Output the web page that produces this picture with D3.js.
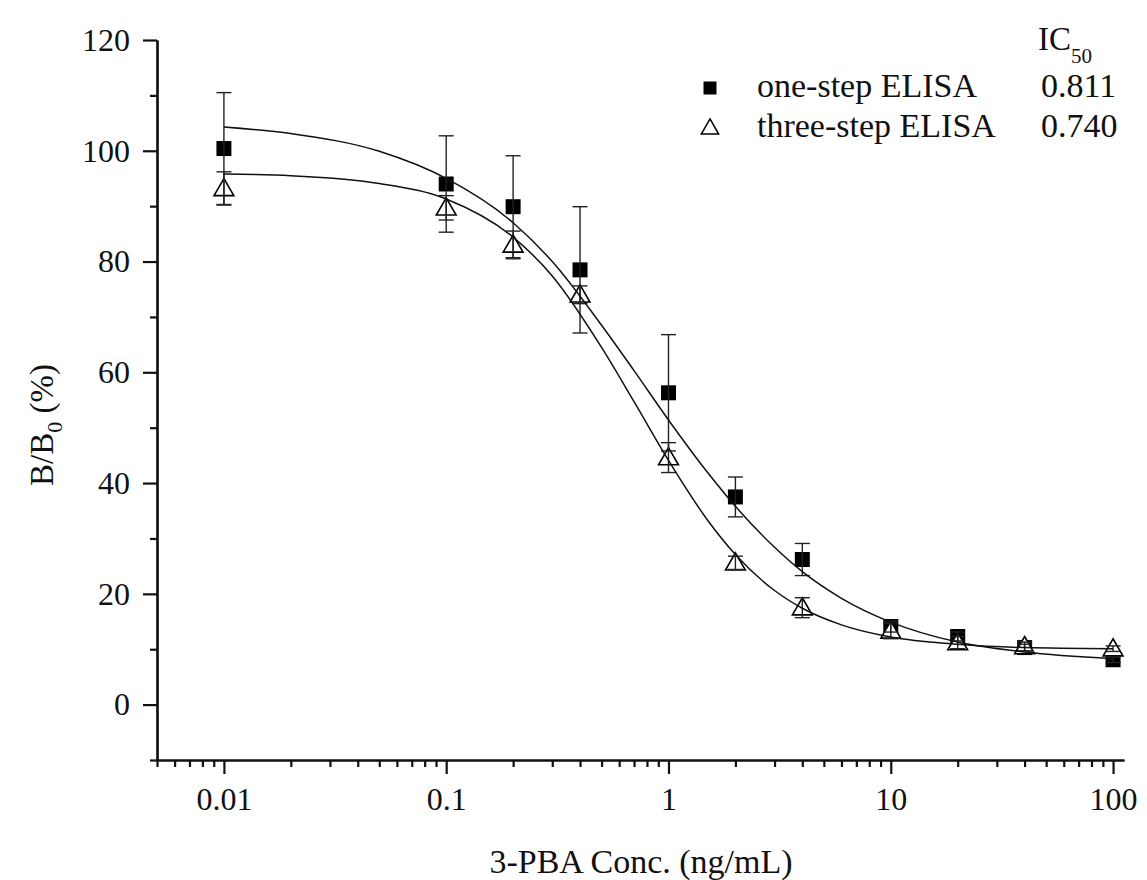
<!DOCTYPE html>
<html>
<head>
<meta charset="utf-8">
<script src="https://cdn.jsdelivr.net/npm/d3@7"></script>
<style>
  body { margin: 0; background: #fff; }
  svg text { font-family: "Liberation Serif", "Times New Roman", serif; fill: #111; }
  .axis path, .axis line { stroke: #111; stroke-width: 2.2; }
  .axis text { font-size: 32px; }
</style>
</head>
<body>
<div class="visHolder"></div>
<script>
"use strict"

// concentrations (ng/mL)
var conc = [0.01, 0.1, 0.2, 0.4, 1, 2, 4, 10, 20, 40, 100];

// B/B0 (%) means and SD
var oneStep = [100.4, 94.0, 89.9, 78.5, 56.3, 37.5, 26.2, 14.1, 12.3, 10.3, 8.1];
var oneStepErr = [10.1, 8.7, 9.2, 11.4, 10.5, 3.6, 2.9, 1.0, 0.8, 0.6, 0.5];
var threeStep = [93.2, 89.7, 83.0, 74.0, 44.6, 25.6, 17.5, 13.3, 11.2, 10.5, 10.1];
var threeStepErr = [3.0, 2.2, 2.5, 1.6, 2.7, 1.2, 1.8, 1.4, 1.1, 0.8, 0.5];

// fitted curves, points
var fitX = [0.01, 0.02, 0.05, 0.1, 0.2, 0.3, 0.5, 0.7, 1, 1.5, 2, 3, 4, 6, 10, 20, 40, 100];
var oneFit = [104.3, 103.1, 99.9, 95.0, 87.0, 80.0, 68.5, 60.3, 51.4, 41.9, 35.8, 28.4, 24.0, 19.2, 14.9, 11.3, 9.5, 8.3];
var threeFit = [95.8, 95.5, 94.1, 91.3, 84.4, 77.4, 64.5, 54.7, 44.1, 33.3, 27.1, 20.6, 17.4, 14.4, 12.2, 10.9, 10.3, 10.1];

var xTicks = [0.01, 0.1, 1, 10, 100];
var xTickLabels = ['0.01', '0.1', '1', '10', '100'];
var yTicks = [0, 20, 40, 60, 80, 100, 120];
var yMinorTicks = [-10, 10, 30, 50, 70, 90, 110];

var legendNames = ['one-step ELISA', 'three-step ELISA'];
var ic50 = ['0.811', '0.740'];

var width = 1147,
  height = 880;

var svg = d3.select('.visHolder')
  .append('svg')
  .attr('width', width)
  .attr('height', height);

var xScale = d3.scaleLog()
  .domain([0.005, 112])
  .range([157, 1124]);

var yScale = d3.scaleLinear()
  .domain([-10, 120])
  .range([760, 40]);

// minor ticks: every integer multiple inside each decade
var xMinor = xScale.ticks().filter(t => xTicks.indexOf(t) < 0 && t <= 100);

svg.append('g')
  .attr('class', 'axis')
  .attr('transform', 'translate(0,760)')
  .call(d3.axisBottom(xScale).tickValues(xMinor).tickSize(7).tickSizeOuter(0).tickFormat(''));

svg.append('g')
  .attr('class', 'axis')
  .attr('transform', 'translate(0,760)')
  .call(d3.axisBottom(xScale).tickValues(xTicks).tickSize(14).tickSizeOuter(0).tickPadding(13)
    .tickFormat((d, i) => xTickLabels[i]));

svg.append('g')
  .attr('class', 'axis')
  .attr('transform', 'translate(157,0)')
  .call(d3.axisLeft(yScale).tickValues(yMinorTicks).tickSize(7).tickSizeOuter(0).tickFormat(''));

svg.append('g')
  .attr('class', 'axis')
  .attr('transform', 'translate(157,0)')
  .call(d3.axisLeft(yScale).tickValues(yTicks).tickSize(14).tickSizeOuter(0).tickPadding(13));

// axis titles
svg.append('text')
  .attr('x', 641)
  .attr('y', 873)
  .attr('text-anchor', 'middle')
  .style('font-size', '34px')
  .text('3-PBA Conc. (ng/mL)');

var yTitle = svg.append('text')
  .attr('transform', 'translate(53,425) rotate(-90)')
  .attr('text-anchor', 'middle')
  .style('font-size', '33px');
yTitle.append('tspan').text('B/B');
yTitle.append('tspan').attr('dy', 9).style('font-size', '22px').text('0');
yTitle.append('tspan').attr('dy', -9).text(' (%)');

// error bars
function errorBars(vals, errs) {
  var g = svg.append('g')
    .attr('stroke', '#222')
    .attr('stroke-width', 1.4);
  vals.forEach((v, i) => {
    var x = xScale(conc[i]);
    var y1 = yScale(v + errs[i]),
      y2 = yScale(v - errs[i]);
    g.append('line').attr('x1', x).attr('x2', x).attr('y1', y1).attr('y2', y2);
    g.append('line').attr('x1', x - 7.5).attr('x2', x + 7.5).attr('y1', y1).attr('y2', y1);
    g.append('line').attr('x1', x - 7.5).attr('x2', x + 7.5).attr('y1', y2).attr('y2', y2);
  });
}

var square = d3.symbol().type(d3.symbolSquare).size(225);
var triangle = d3.symbol().type(d3.symbolTriangle).size(170);

svg.append('g').selectAll('path')
  .data(oneStep)
  .enter()
  .append('path')
  .attr('d', square)
  .attr('transform', (d, i) => 'translate(' + xScale(conc[i]) + ',' + yScale(d) + ')')
  .attr('fill', '#000');

svg.append('g').selectAll('path')
  .data(threeStep)
  .enter()
  .append('path')
  .attr('d', triangle)
  .attr('transform', (d, i) => 'translate(' + xScale(conc[i]) + ',' + (yScale(d) + 1.5) + ')')
  .attr('fill', '#fff')
  .attr('stroke', '#000')
  .attr('stroke-width', 1.6);

errorBars(oneStep, oneStepErr);
errorBars(threeStep, threeStepErr);

// fitted curves
var line = d3.line()
  .x((d, i) => xScale(fitX[i]))
  .y(d => yScale(d))
  .curve(d3.curveMonotoneX);

[oneFit, threeFit].forEach(f => {
  svg.append('path')
    .attr('d', line(f))
    .attr('fill', 'none')
    .attr('stroke', '#111')
    .attr('stroke-width', 1.5);
});

// legend
var ic = svg.append('text')
  .attr('x', 1038)
  .attr('y', 50)
  .style('font-size', '33px');
ic.append('tspan').text('IC');
ic.append('tspan').attr('dy', 13).style('font-size', '21px').text('50');

svg.append('path')
  .attr('d', d3.symbol().type(d3.symbolSquare).size(169)())
  .attr('transform', 'translate(710,88)')
  .attr('fill', '#000');

svg.append('path')
  .attr('d', d3.symbol().type(d3.symbolTriangle).size(130)())
  .attr('transform', 'translate(710,129)')
  .attr('fill', '#fff')
  .attr('stroke', '#000')
  .attr('stroke-width', 1.5);

legendNames.forEach((n, i) => {
  svg.append('text')
    .attr('x', 757)
    .attr('y', 97 + i * 40)
    .style('font-size', '34px')
    .text(n);
  svg.append('text')
    .attr('x', 1041)
    .attr('y', 97 + i * 40)
    .style('font-size', '34px')
    .text(ic50[i]);
});
</script>
</body>
</html>
